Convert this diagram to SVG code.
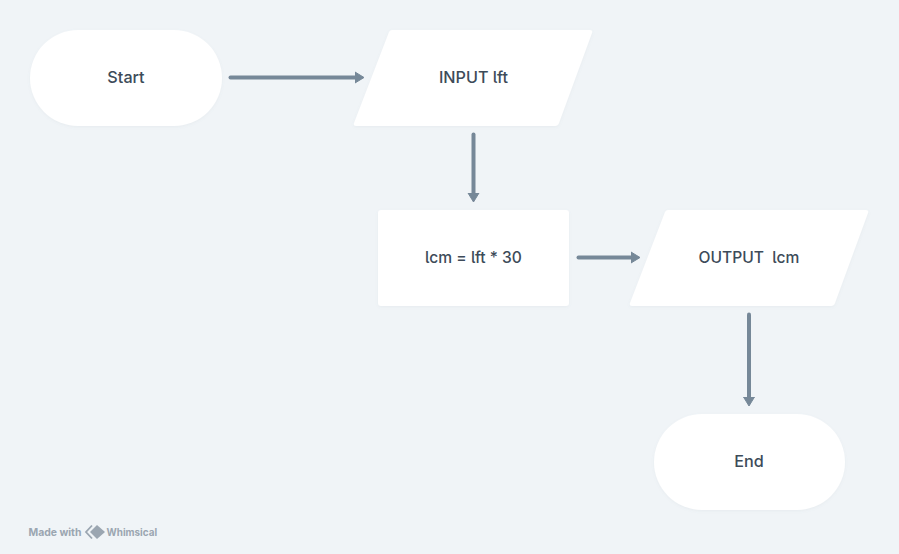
<svg xmlns="http://www.w3.org/2000/svg" width="899" height="554" viewBox="0 0 899 554">
<defs>
<filter id="sh" x="-10%" y="-10%" width="120%" height="125%"><feDropShadow dx="0" dy="1" stdDeviation="1.5" flood-color="#7a8a9a" flood-opacity="0.08"/></filter>
<marker id="arrow" viewBox="0 0 10 13" refX="1" refY="6.5" markerWidth="10" markerHeight="13" markerUnits="userSpaceOnUse" orient="auto"><path d="M0 1 L9 6.5 L0 12 Z" fill="#768898" stroke="#768898" stroke-width="1" stroke-linejoin="round"/></marker>
</defs>
<style>
.n{fill:#fff;filter:url(#sh)}
.t{font-family:"Inter","Noto Sans",sans-serif;font-size:16.2px;font-weight:500;fill:#3d4b59;text-anchor:middle;font-feature-settings:"cv05" 1}
.s{font-size:15.600px}
.c{fill:none;stroke:#768898;stroke-width:4;stroke-linecap:round}
.w{font-family:"Inter","Liberation Sans",sans-serif;font-weight:700;fill:#9ba6b1}
</style>
<rect width="899" height="554" fill="#f0f4f7"/>
<g id="connectors">
<path class="c" d="M230.500 77.500H356" marker-end="url(#arrow)"/>
<path class="c" d="M473.500 134.500V194" marker-end="url(#arrow)"/>
<path class="c" d="M578.500 257.500H632" marker-end="url(#arrow)"/>
<path class="c" d="M749 314.500V398" marker-end="url(#arrow)"/>
</g>
<g id="start"><rect class="n" x="30" y="30" width="192" height="96" rx="48"/><text class="t" x="126" y="83">Start</text></g>
<g id="input"><path class="n" d="M389 32Q390 30 392 30H590Q593 30 592 33L559 123Q558 126 555 126H356Q353 126 354 123Z"/><text class="t" x="473.500" y="83">INPUT lft</text></g>
<g id="process"><rect class="n" x="378" y="210" width="191" height="96" rx="3"/><text class="t s" x="473.500" y="263">lcm = lft * 30</text></g>
<g id="output"><path class="n" d="M665 212Q666 210 668 210H866Q869 210 868 213L835 303Q834 306 831 306H632Q629 306 630 303Z"/><text class="t s" x="749" y="263" xml:space="preserve">OUTPUT  lcm</text></g>
<g id="end"><rect class="n" x="654" y="414" width="191" height="96" rx="48"/><text class="t" x="749" y="467">End</text></g>
<g id="watermark">
<text class="w" x="28.500" y="536" font-size="10.400">Made with</text>
<path d="M92 525.500L86 532L92 538.500" fill="none" stroke="#9ba6b1" stroke-width="1.800"/>
<path d="M97 525L105 532L97 539L90 532Z" fill="#9ba6b1"/>
<text class="w" x="106.500" y="536" font-size="9.900">Whimsical</text>
</g>
</svg>
